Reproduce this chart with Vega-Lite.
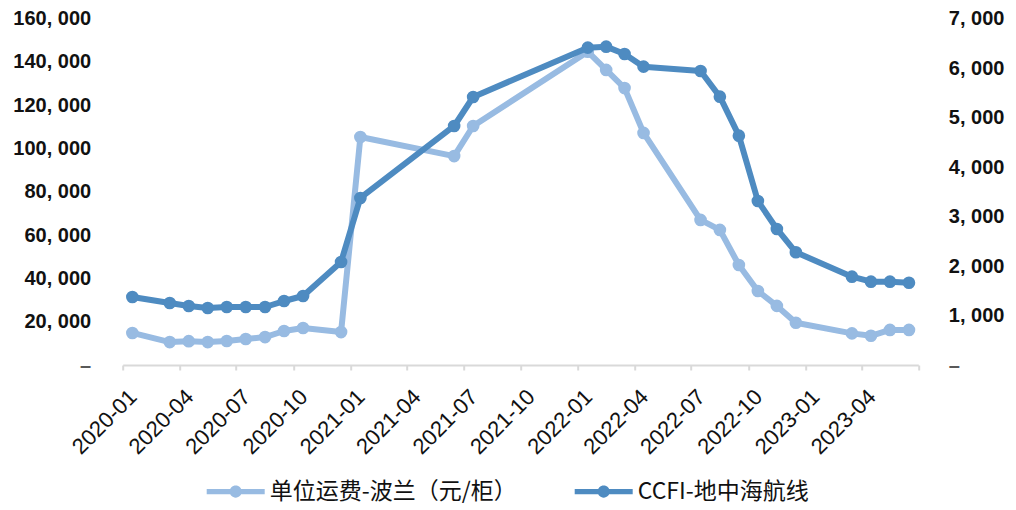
{
  "$schema": "https://vega.github.io/schema/vega-lite/v6.json",
  "autosize": {"type": "none"},
  "padding": {"left": 122.7, "top": 18.6, "right": 97.7, "bottom": 145},
  "width": 795.6,
  "height": 346.4,
  "background": "#ffffff",
  "config": {
    "view": {"stroke": null},
    "axis": {"grid": false, "labelFont": "Liberation Sans", "labelFontSize": 20, "labelColor": "#111111", "title": null}
  },
  "data": {
    "values": [
      {"date": "2020-01-01", "series": "单位运费-波兰（元/柜）", "value": 14800},
      {"date": "2020-03-01", "series": "单位运费-波兰（元/柜）", "value": 10600},
      {"date": "2020-04-01", "series": "单位运费-波兰（元/柜）", "value": 11000},
      {"date": "2020-05-01", "series": "单位运费-波兰（元/柜）", "value": 10600},
      {"date": "2020-06-01", "series": "单位运费-波兰（元/柜）", "value": 11100},
      {"date": "2020-07-01", "series": "单位运费-波兰（元/柜）", "value": 12000},
      {"date": "2020-08-01", "series": "单位运费-波兰（元/柜）", "value": 12900},
      {"date": "2020-09-01", "series": "单位运费-波兰（元/柜）", "value": 15700},
      {"date": "2020-10-01", "series": "单位运费-波兰（元/柜）", "value": 17100},
      {"date": "2020-12-01", "series": "单位运费-波兰（元/柜）", "value": 15200},
      {"date": "2021-01-01", "series": "单位运费-波兰（元/柜）", "value": 105300},
      {"date": "2021-06-01", "series": "单位运费-波兰（元/柜）", "value": 96500},
      {"date": "2021-07-01", "series": "单位运费-波兰（元/柜）", "value": 110400},
      {"date": "2022-01-01", "series": "单位运费-波兰（元/柜）", "value": 144700},
      {"date": "2022-02-01", "series": "单位运费-波兰（元/柜）", "value": 136300},
      {"date": "2022-03-01", "series": "单位运费-波兰（元/柜）", "value": 127900},
      {"date": "2022-04-01", "series": "单位运费-波兰（元/柜）", "value": 107200},
      {"date": "2022-07-01", "series": "单位运费-波兰（元/柜）", "value": 67000},
      {"date": "2022-08-01", "series": "单位运费-波兰（元/柜）", "value": 62400},
      {"date": "2022-09-01", "series": "单位运费-波兰（元/柜）", "value": 46200},
      {"date": "2022-10-01", "series": "单位运费-波兰（元/柜）", "value": 34200},
      {"date": "2022-11-01", "series": "单位运费-波兰（元/柜）", "value": 27300},
      {"date": "2022-12-01", "series": "单位运费-波兰（元/柜）", "value": 19500},
      {"date": "2023-03-01", "series": "单位运费-波兰（元/柜）", "value": 14600},
      {"date": "2023-04-01", "series": "单位运费-波兰（元/柜）", "value": 13500},
      {"date": "2023-05-01", "series": "单位运费-波兰（元/柜）", "value": 16200},
      {"date": "2023-06-01", "series": "单位运费-波兰（元/柜）", "value": 16200},
      {"date": "2020-01-01", "series": "CCFI-地中海航线", "value": 1374},
      {"date": "2020-03-01", "series": "CCFI-地中海航线", "value": 1253},
      {"date": "2020-04-01", "series": "CCFI-地中海航线", "value": 1192},
      {"date": "2020-05-01", "series": "CCFI-地中海航线", "value": 1152},
      {"date": "2020-06-01", "series": "CCFI-地中海航线", "value": 1172},
      {"date": "2020-07-01", "series": "CCFI-地中海航线", "value": 1172},
      {"date": "2020-08-01", "series": "CCFI-地中海航线", "value": 1172},
      {"date": "2020-09-01", "series": "CCFI-地中海航线", "value": 1293},
      {"date": "2020-10-01", "series": "CCFI-地中海航线", "value": 1394},
      {"date": "2020-12-01", "series": "CCFI-地中海航线", "value": 2082},
      {"date": "2021-01-01", "series": "CCFI-地中海航线", "value": 3375},
      {"date": "2021-06-01", "series": "CCFI-地中海航线", "value": 4830},
      {"date": "2021-07-01", "series": "CCFI-地中海航线", "value": 5416},
      {"date": "2022-01-01", "series": "CCFI-地中海航线", "value": 6413},
      {"date": "2022-02-01", "series": "CCFI-地中海航线", "value": 6433},
      {"date": "2022-03-01", "series": "CCFI-地中海航线", "value": 6285},
      {"date": "2022-04-01", "series": "CCFI-地中海航线", "value": 6029},
      {"date": "2022-07-01", "series": "CCFI-地中海航线", "value": 5942},
      {"date": "2022-08-01", "series": "CCFI-地中海航线", "value": 5422},
      {"date": "2022-09-01", "series": "CCFI-地中海航线", "value": 4634},
      {"date": "2022-10-01", "series": "CCFI-地中海航线", "value": 3314},
      {"date": "2022-11-01", "series": "CCFI-地中海航线", "value": 2749},
      {"date": "2022-12-01", "series": "CCFI-地中海航线", "value": 2278},
      {"date": "2023-03-01", "series": "CCFI-地中海航线", "value": 1785},
      {"date": "2023-04-01", "series": "CCFI-地中海航线", "value": 1684},
      {"date": "2023-05-01", "series": "CCFI-地中海航线", "value": 1684},
      {"date": "2023-06-01", "series": "CCFI-地中海航线", "value": 1663}
    ]
  },
  "encoding": {
    "x": {
      "field": "date",
      "type": "temporal",
      "timeUnit": "utcyearmonth",
      "bandPosition": 0.5,
      "scale": {"type": "utc", "domain": [{"year": 2020, "month": 1, "date": 1, "utc": true}, {"year": 2023, "month": 7, "date": 1, "utc": true}]},
      "axis": {
        "values": [
          {"year": 2020, "month": 1, "date": 1, "utc": true},
          {"year": 2020, "month": 4, "date": 1, "utc": true},
          {"year": 2020, "month": 7, "date": 1, "utc": true},
          {"year": 2020, "month": 10, "date": 1, "utc": true},
          {"year": 2021, "month": 1, "date": 1, "utc": true},
          {"year": 2021, "month": 4, "date": 1, "utc": true},
          {"year": 2021, "month": 7, "date": 1, "utc": true},
          {"year": 2021, "month": 10, "date": 1, "utc": true},
          {"year": 2022, "month": 1, "date": 1, "utc": true},
          {"year": 2022, "month": 4, "date": 1, "utc": true},
          {"year": 2022, "month": 7, "date": 1, "utc": true},
          {"year": 2022, "month": 10, "date": 1, "utc": true},
          {"year": 2023, "month": 1, "date": 1, "utc": true},
          {"year": 2023, "month": 4, "date": 1, "utc": true},
          {"year": 2023, "month": 7, "date": 1, "utc": true}
        ],
        "labelExpr": "utcFormat(datum.value, '%Y-%m') == '2023-07' ? '' : utcFormat(datum.value, '%Y-%m')",
        "labelFontSize": 22,
        "labelAngle": -45,
        "labelAlign": "right",
        "labelBaseline": "middle",
        "labelOffset": 10,
        "labelPadding": 23,
        "labelOverlap": false,
        "labelFlush": false,
        "domainColor": "#d9d9d9",
        "domainWidth": 2,
        "tickColor": "#d9d9d9",
        "tickWidth": 2,
        "tickSize": 5
      }
    },
    "color": {
      "field": "series",
      "type": "nominal",
      "scale": {"domain": ["单位运费-波兰（元/柜）", "CCFI-地中海航线"], "range": ["#98bbe2", "#4e8bc1"]},
      "legend": {
        "orient": "none",
        "legendX": 84,
        "legendY": 444,
        "direction": "horizontal",
        "title": null,
        "symbolType": "M-1,-0.09L1,-0.09L1,0.09L-1,0.09Z M-0.21,0A0.21,0.21 0 1,1 0.21,0A0.21,0.21 0 1,1 -0.21,0Z",
        "symbolSize": 3364,
        "symbolStrokeWidth": 0,
        "labelFont": "Noto Sans CJK SC",
        "labelFontSize": 23,
        "labelColor": "#111111",
        "labelOffset": 5,
        "columnPadding": 58,
        "labelLimit": 400,
        "encode": {
          "symbols": {
            "update": {
              "fill": {"scale": "color", "field": "value"},
              "fillOpacity": {"value": 1},
              "strokeWidth": {"value": 0},
              "opacity": {"value": 1}
            }
          }
        }
      }
    }
  },
  "layer": [
    {
      "transform": [{"filter": "datum.series == '单位运费-波兰（元/柜）'"}],
      "mark": {"type": "line", "strokeWidth": 6, "strokeJoin": "round", "strokeCap": "round", "point": {"filled": true, "size": 160, "opacity": 1}},
      "encoding": {
        "y": {
          "field": "value",
          "type": "quantitative",
          "scale": {"domain": [0, 160000], "nice": false},
          "axis": {
            "orient": "left",
            "values": [0, 20000, 40000, 60000, 80000, 100000, 120000, 140000, 160000],
            "labelExpr": "datum.value == 0 ? '–' : replace(format(datum.value, ','), ',', ', ')",
            "labelFontWeight": "bold",
            "labelColor": {"condition": {"test": "datum.value == 0", "value": "#595959"}, "value": "#111111"},
            "domain": false,
            "ticks": false,
            "labelPadding": 32
          }
        }
      }
    },
    {
      "transform": [{"filter": "datum.series == 'CCFI-地中海航线'"}],
      "mark": {"type": "line", "strokeWidth": 6, "strokeJoin": "round", "strokeCap": "round", "point": {"filled": true, "size": 160, "opacity": 1}},
      "encoding": {
        "y": {
          "field": "value",
          "type": "quantitative",
          "scale": {"domain": [0, 7000], "nice": false},
          "axis": {
            "orient": "right",
            "values": [0, 1000, 2000, 3000, 4000, 5000, 6000, 7000],
            "labelExpr": "datum.value == 0 ? '–' : replace(format(datum.value, ','), ',', ', ')",
            "labelFontWeight": "bold",
            "labelColor": {"condition": {"test": "datum.value == 0", "value": "#595959"}, "value": "#111111"},
            "domain": false,
            "ticks": false,
            "labelPadding": 30
          }
        }
      }
    }
  ],
  "resolve": {"scale": {"y": "independent"}}
}
